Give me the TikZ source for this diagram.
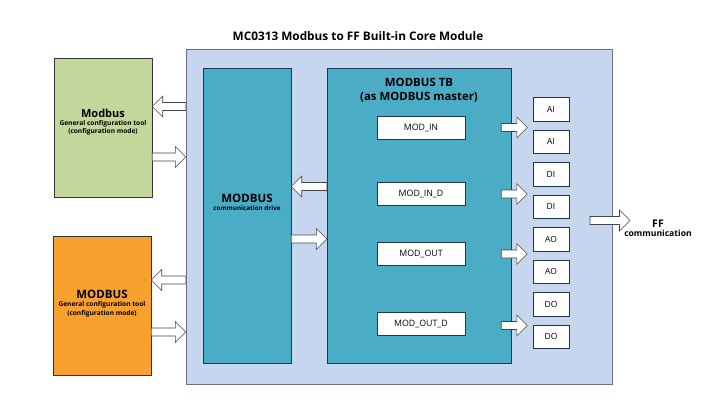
\documentclass[tikz,border=0pt]{standalone}
\usepackage{fontspec}
\setmainfont{Open Sans}
\usetikzlibrary{calc}
\definecolor{modframe}{HTML}{C6D6EE}
\definecolor{modteal}{HTML}{4BACC6}
\definecolor{toolgreen}{HTML}{C4D79B}
\definecolor{toolorange}{HTML}{F9A12E}
\definecolor{framegray}{HTML}{6A7282}
\definecolor{navyline}{HTML}{1F3550}
\definecolor{arrowline}{HTML}{454545}
\tikzset{
  box/.style={draw, rectangle, inner sep=0pt},
  modbox/.style={box, draw=navyline, fill=white, minimum width=88, minimum height=23,
    font={\fontsize{8.8}{10}\selectfont}},
  fbbox/.style={box, draw=navyline, fill=white, minimum width=36, minimum height=23.5,
    font={\fontsize{8.5}{10}\selectfont}},
  barrow/.style={draw=arrowline, fill=white, line width=0.6pt, line join=miter,
    to path={let \p1=(\tikztostart), \p2=(\tikztotarget),
      \n1={ifthenelse(\x2>\x1,1,-1)} in
      (\x1,\y1+4pt) -- (\x2-\n1*10.5pt,\y1+4pt) -- (\x2-\n1*10.5pt,\y1+10.5pt)
      -- (\x2,\y1) -- (\x2-\n1*10.5pt,\y1-10.5pt) -- (\x2-\n1*10.5pt,\y1-4pt)
      -- (\x1,\y1-4pt) -- cycle}}
}
\newcommand{\bigtxt}{\fontsize{11.5}{12.5}\selectfont\bfseries}
\newcommand{\smalltxt}{\fontsize{6.6}{8.2}\selectfont\bfseries}
\begin{document}
\begin{tikzpicture}[x=1pt, y=-1pt]
  \useasboundingbox (0,0) rectangle (706,414);
  % Title
  \node[font={\fontsize{11.8}{13}\selectfont\bfseries}] (title) at (358,36) {MC0313 Modbus to FF Built-in Core Module};
  % Module frame
  \node[box, draw=framegray, fill=modframe, minimum width=426, minimum height=335] (outer) at (399,216.5) {};
  % Configuration tools
  \node[box, draw=black!80, fill=toolgreen, minimum width=98, minimum height=139] (green) at (103,127.5) {};
  \node[align=center, font=\smalltxt] (greentxt) at (103,122) {{\bigtxt\fontsize{11}{12}\selectfont Modbus}\\General configuration tool\\(configuration mode)};
  \node[box, draw=black!80, fill=toolorange, minimum width=98, minimum height=139] (orange) at (102,305.5) {};
  \node[align=center, font=\smalltxt] (orangetxt) at (102,303.5) {{\bigtxt MODBUS}\\General configuration tool\\(configuration mode)};
  % Communication drive and transducer block
  \node[box, draw=navyline, fill=modteal, minimum width=88, minimum height=295] (drive) at (247,215.5) {};
  \node[align=center, font={\fontsize{6.3}{8}\selectfont\bfseries}] (drivetxt) at (247,202) {{\bigtxt MODBUS}\\communication drive};
  \node[box, draw=navyline, fill=modteal, minimum width=184, minimum height=295] (tb) at (419,215.5) {};
  \node[align=center, font={\fontsize{11.4}{14}\selectfont\bfseries}] (tbtxt) at (419,90) {MODBUS TB\\(as MODBUS master)};
  % MOD blocks
  \node[modbox] (modin) at (421,127.5) {MOD\_IN};
  \node[modbox] (modind) at (421,194) {MOD\_IN\_D};
  \node[modbox] (modout) at (421,254) {MOD\_OUT};
  \node[modbox] (modoutd) at (421,323.5) {MOD\_OUT\_D};
  % FF function blocks
  \foreach \lab [count=\i] in {AI,AI,DI,DI,AO,AO,DO,DO}
    \node[fbbox] (fb\i) at (551,76.5+32.5*\i) {\lab};
  % FF communication
  \node[align=center, font={\fontsize{10.5}{11}\selectfont\bfseries}] (ff) at (658,228) {FF\\[-2pt]{\fontsize{8.6}{9}\selectfont communication}};
  \coordinate (ffa) at (590,220.5);
  \coordinate (ffb) at (630,220.5);
  % Arrows
  \draw[barrow] (outer.west |- 0,106.5) to (green.east);
  \draw[barrow] (green.east |- 0,157) to (outer.west);
  \draw[barrow] (outer.west |- 0,280) to (orange.east);
  \draw[barrow] (orange.east |- 0,332) to (outer.west);
  \draw[barrow] (tb.west |- 0,186.5) to (drive.east);
  \draw[barrow] (drive.east |- 0,239) to (tb.west);
  \draw[barrow] ($(tb.east |- modin)+(-10,0)$) to ([xshift=-5.5pt]fb1.west);
  \draw[barrow] ($(tb.east |- modind)+(-10,0)$) to ([xshift=-5.5pt]fb3.west);
  \draw[barrow] ($(tb.east |- modout)+(-10,0)$) to ([xshift=-5.5pt]fb5.west);
  \draw[barrow] ($(tb.east |- modoutd)+(-10,2)$) to ([xshift=-5.5pt]fb7.west);
  \draw[barrow] (ffa) to (ffb);
\end{tikzpicture}
\end{document}
